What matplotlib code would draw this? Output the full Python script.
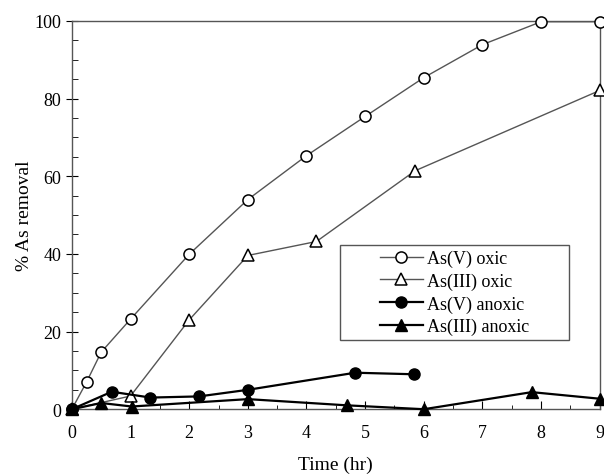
import matplotlib.pyplot as plt
from matplotlib.ticker import MultipleLocator
from matplotlib.patches import Rectangle

plt.rcParams['font.family'] = ['Liberation Serif', 'DejaVu Serif']

# As(V) oxic
t_v_oxic = [0, 0.25, 0.5, 1, 2, 3, 4, 5, 6, 7, 8, 9]
r_v_oxic = [0, 7, 14.7, 23.2, 39.9, 54, 65.3, 75.4, 85.4, 93.9, 99.8, 99.8]
# As(III) oxic
t_iii_oxic = [0, 1, 2, 3, 4.17, 5.85, 9]
r_iii_oxic = [0, 3.4, 23, 39.6, 43.2, 61.4, 82.1]
# As(V) anoxic
t_v_anox = [0, 0.68, 1.34, 2.17, 3, 4.83, 5.84]
r_v_anox = [0, 4.5, 3.0, 3.3, 5.0, 9.4, 9.0]
# As(III) anoxic
t_iii_anox = [0, 0.5, 1.02, 3, 4.69, 6, 7.84, 9]
r_iii_anox = [0, 1.6, 0.7, 2.6, 1.0, 0, 4.4, 2.7]

fig = plt.figure(figsize=(6.04, 4.77), dpi=100)
ax = fig.add_axes([0.119, 0.14, 0.874, 0.814])

grey = '#555555'
ax.plot(t_v_oxic, r_v_oxic, color=grey, lw=1, marker='o', ms=8, mfc='white',
        mec='black', mew=1.1, label='As(V) oxic', clip_on=False, zorder=3)
ax.plot(t_iii_oxic, r_iii_oxic, color=grey, lw=1, marker='^', ms=9, mfc='white',
        mec='black', mew=1.1, label='As(III) oxic', clip_on=False, zorder=3)
ax.plot(t_v_anox, r_v_anox, color='black', lw=1.6, marker='o', ms=8, mfc='black',
        mec='black', label='As(V) anoxic', clip_on=False, zorder=4)
ax.plot(t_iii_anox, r_iii_anox, color='black', lw=1.6, marker='^', ms=9, mfc='black',
        mec='black', label='As(III) anoxic', clip_on=False, zorder=4)

ax.set_xlim(0, 9)
ax.set_ylim(0, 100)
ax.xaxis.set_major_locator(MultipleLocator(1))
ax.xaxis.set_minor_locator(MultipleLocator(0.5))
ax.yaxis.set_major_locator(MultipleLocator(20))
ax.yaxis.set_minor_locator(MultipleLocator(5))
ax.tick_params(axis='x', which='major', direction='in', length=6, labelsize=13, pad=11)
ax.tick_params(axis='x', which='minor', direction='in', length=3)
ax.tick_params(axis='y', which='major', direction='inout', length=8, labelsize=13)
ax.tick_params(axis='y', which='minor', direction='in', length=4)
for s in ax.spines.values():
    s.set_color(grey)
    s.set_linewidth(1)

ax.set_xlabel('Time (hr)', fontsize=14, labelpad=10)
ax.set_ylabel('% As removal', fontsize=14, labelpad=1)

# legend frame drawn separately (wider than its contents)
ax.add_patch(Rectangle((0.508, 0.178), 0.433, 0.245, transform=ax.transAxes,
                       facecolor='white', edgecolor=grey, lw=1, zorder=5))
leg = ax.legend(loc='center', bbox_to_anchor=(0.7245, 0.3005), fontsize=13,
                frameon=False, handlelength=2.4, handletextpad=0.2,
                labelspacing=0.3, borderpad=0.2)
leg.set_zorder(6)

fig.savefig('out.png', dpi=100)
